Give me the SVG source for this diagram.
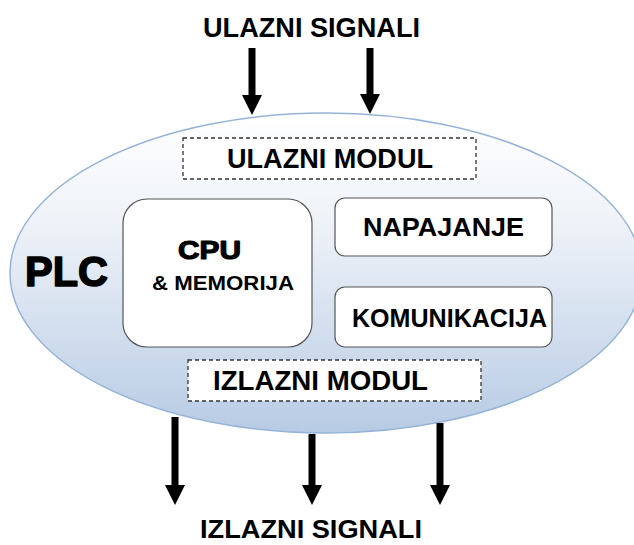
<svg xmlns="http://www.w3.org/2000/svg" width="634" height="545" viewBox="0 0 634 545">
<defs>
<linearGradient id="plcGrad" x1="0" y1="0" x2="0" y2="1">
<stop offset="0" stop-color="#ffffff"/>
<stop offset="0.35" stop-color="#eef2f8"/>
<stop offset="1" stop-color="#b7cbe4"/>
</linearGradient>
<marker id="head" viewBox="0 0 20 20" markerWidth="20" markerHeight="20" markerUnits="userSpaceOnUse" refX="0" refY="10" orient="auto">
<path d="M0,0 L20,10 L0,20 z" fill="#000"/>
</marker>
<style>
.t{font-family:"Liberation Sans",Arial,sans-serif;font-weight:bold;fill:#000}
.heavy{stroke:#000;stroke-linejoin:round}
.dash{fill:#fff;stroke:#333;stroke-width:1.3;stroke-dasharray:4 3}
.box{fill:#fff;stroke:#555;stroke-width:1.2}
.arrow{stroke:#000;stroke-width:7;fill:none;marker-end:url(#head)}
</style>
</defs>
<g id="plc">
<ellipse cx="326" cy="273" rx="316" ry="160" fill="url(#plcGrad)" stroke="#95b3d7" stroke-width="1.5"/>
<text class="t heavy" x="25" y="286" font-size="43" stroke-width="1.6" textLength="83" lengthAdjust="spacingAndGlyphs">PLC</text>
</g>
<g id="ulazni-modul">
<rect class="dash" x="183" y="138" width="293" height="41"/>
<text class="t" x="227" y="168" font-size="27" textLength="206" lengthAdjust="spacingAndGlyphs">ULAZNI MODUL</text>
</g>
<g id="cpu">
<rect class="box" x="123" y="199" width="189" height="148" rx="24" ry="24"/>
<text class="t heavy" x="178" y="259" font-size="26" stroke-width="1.2" textLength="63" lengthAdjust="spacingAndGlyphs">CPU</text>
<text class="t" x="152" y="290" font-size="21" textLength="142" lengthAdjust="spacingAndGlyphs">&amp; MEMORIJA</text>
</g>
<g id="napajanje">
<rect class="box" x="335" y="198" width="217" height="58" rx="10" ry="10"/>
<text class="t" x="363" y="236" font-size="26" textLength="161" lengthAdjust="spacingAndGlyphs">NAPAJANJE</text>
</g>
<g id="komunikacija">
<rect class="box" x="335" y="287" width="217" height="60" rx="10" ry="10"/>
<text class="t" x="352" y="327" font-size="25" textLength="195" lengthAdjust="spacingAndGlyphs">KOMUNIKACIJA</text>
</g>
<g id="izlazni-modul">
<rect class="dash" x="188" y="360" width="293" height="41"/>
<text class="t" x="213" y="390" font-size="27" textLength="215" lengthAdjust="spacingAndGlyphs">IZLAZNI MODUL</text>
</g>
<g id="ulazni-signali">
<text class="t" x="203" y="37" font-size="27" textLength="217" lengthAdjust="spacingAndGlyphs">ULAZNI SIGNALI</text>
</g>
<g id="izlazni-signali">
<text class="t" x="200" y="538" font-size="26" textLength="222" lengthAdjust="spacingAndGlyphs">IZLAZNI SIGNALI</text>
</g>
<g id="connectors">
<line class="arrow" x1="252" y1="48" x2="252" y2="95"/>
<line class="arrow" x1="370" y1="48" x2="370" y2="94"/>
<line class="arrow" x1="175" y1="417" x2="175" y2="485"/>
<line class="arrow" x1="312" y1="434" x2="312" y2="485"/>
<line class="arrow" x1="440" y1="423" x2="440" y2="485"/>
</g>
</svg>
